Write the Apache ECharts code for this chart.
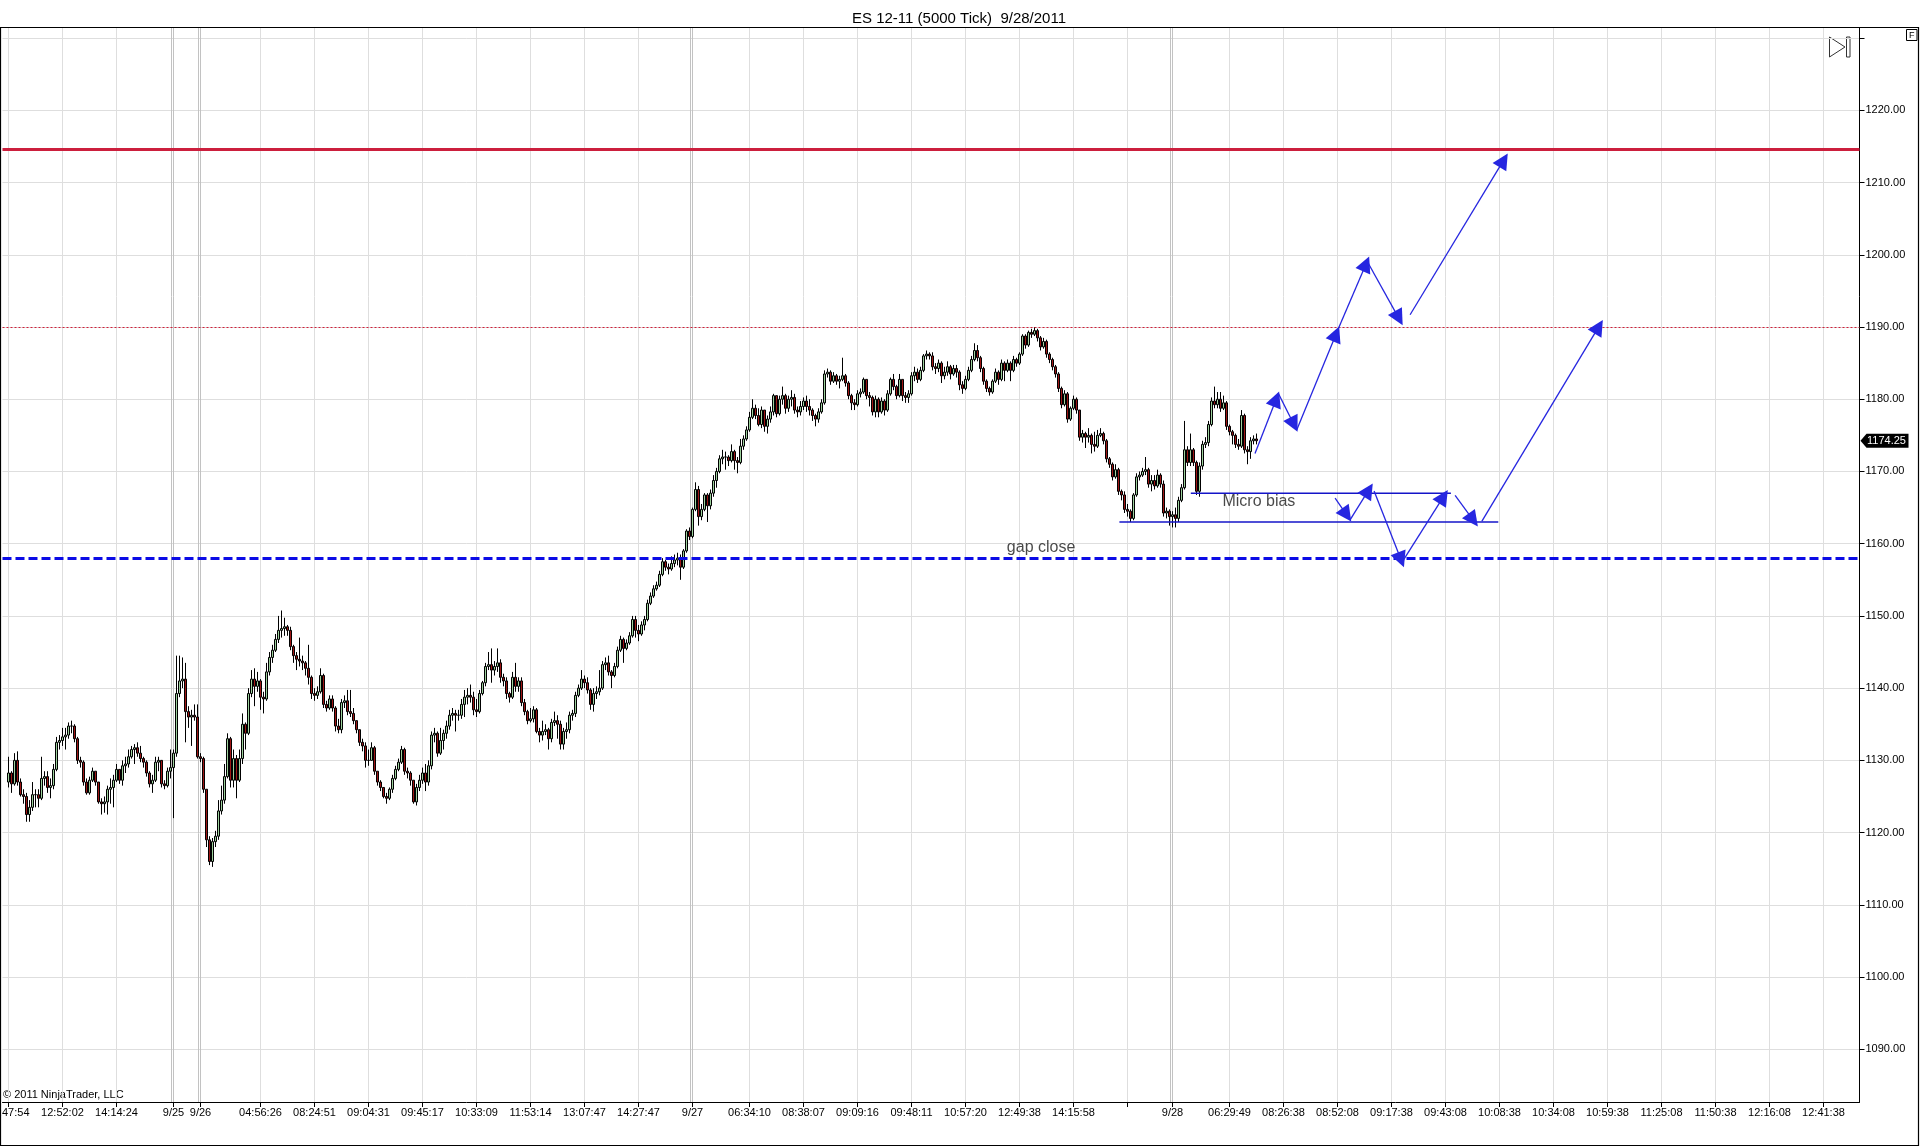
<!DOCTYPE html>
<html>
<head>
<meta charset="utf-8">
<title>ES 12-11 (5000 Tick) 9/28/2011</title>
<script src="https://cdn.jsdelivr.net/npm/echarts@6.0.0/dist/echarts.min.js"></script>
<style>
  html, body { margin: 0; padding: 0; background: #fff; }
  #chart { width: 1920px; height: 1147px; }
</style>
</head>
<body>
<div id="chart"></div>
<script>
// bar slots on the x axis (one slot = one 5000 tick bar, 3px wide)
const SLOTS = 620;
const firstSlot = 2;
const firstOpen = 1127.0;

// closes of each bar, slots 2..418 (open = previous close)
const closes = [
  1128.25, 1126.75, 1130.0, 1127.0, 1125.25, 1125.0, 1122.5, 1123.5, 1125.25, 1125.25,
  1124.75, 1127.5, 1127.75, 1126.25, 1126.5, 1128.75, 1132.5, 1132.75, 1133.25, 1133.5,
  1134.75, 1134.75, 1133.0, 1130.0, 1129.75, 1127.0, 1125.5, 1127.25, 1128.5, 1127.0,
  1124.25, 1124.0, 1124.25, 1126.0, 1126.25, 1127.25, 1128.75, 1127.25, 1129.25, 1129.5,
  1130.5, 1131.5, 1131.75, 1131.0, 1130.25, 1129.75, 1128.25, 1126.75, 1127.25, 1129.75,
  1130.0, 1126.75, 1126.5, 1128.5, 1129.0, 1131.0, 1139.25, 1141.0, 1141.25, 1136.75,
  1136.0, 1136.25, 1136.0, 1130.5, 1130.25, 1126.0, 1119.0, 1116.0, 1118.75, 1119.5,
  1123.0, 1124.5, 1127.75, 1133.0, 1127.25, 1130.25, 1127.25, 1130.25, 1135.0, 1133.75,
  1139.25, 1141.25, 1140.25, 1141.0, 1138.75, 1138.5, 1142.25, 1144.25, 1145.25, 1146.75,
  1148.0, 1148.25, 1148.5, 1148.0, 1145.75, 1144.5, 1144.0, 1143.75, 1143.5, 1142.75,
  1141.5, 1139.25, 1139.0, 1139.5, 1141.75, 1137.75, 1137.25, 1138.5, 1137.25, 1134.75,
  1134.25, 1138.0, 1138.25, 1136.75, 1136.5, 1135.5, 1134.25, 1132.5, 1132.0, 1130.0,
  1130.0, 1131.75, 1128.5, 1127.0, 1126.25, 1125.0, 1124.75, 1126.0, 1127.5, 1128.75,
  1129.75, 1131.5, 1128.5, 1128.25, 1127.25, 1124.25, 1126.25, 1127.25, 1128.25, 1127.0,
  1129.25, 1133.5, 1133.75, 1131.0, 1132.75, 1133.75, 1134.75, 1136.25, 1136.5, 1136.25,
  1136.25, 1137.75, 1138.75, 1139.0, 1138.75, 1137.0, 1136.75, 1139.25, 1140.75, 1143.0,
  1143.25, 1142.5, 1143.0, 1143.5, 1141.5, 1141.0, 1139.25, 1138.75, 1141.5, 1140.25,
  1141.0, 1138.0, 1136.75, 1135.5, 1135.75, 1137.0, 1134.0, 1133.5, 1134.0, 1134.25,
  1133.0, 1135.25, 1135.5, 1135.0, 1132.25, 1134.0, 1134.25, 1136.25, 1136.5, 1139.0,
  1140.0, 1141.25, 1140.75, 1139.75, 1137.75, 1139.25, 1139.5, 1140.0, 1143.25, 1143.5,
  1142.25, 1141.75, 1143.0, 1145.25, 1146.75, 1145.5, 1146.25, 1147.25, 1149.5, 1148.0,
  1147.5, 1148.75, 1149.5, 1151.75, 1152.75, 1153.75, 1154.25, 1155.75, 1157.5, 1156.75,
  1156.5, 1157.25, 1157.75, 1158.0, 1156.75, 1159.0, 1161.75, 1161.0, 1164.75, 1167.5,
  1163.75, 1164.75, 1166.75, 1165.25, 1167.0, 1168.75, 1170.0, 1171.75, 1172.0, 1172.0,
  1171.5, 1172.75, 1171.5, 1171.25, 1173.5, 1174.5, 1175.75, 1177.5, 1178.75, 1177.75,
  1176.5, 1178.5, 1176.25, 1177.25, 1178.25, 1180.5, 1178.0, 1180.0, 1180.5, 1178.75,
  1180.0, 1180.25, 1178.5, 1178.25, 1179.0, 1179.75, 1179.0, 1178.5, 1177.75, 1177.25,
  1178.25, 1179.5, 1183.5, 1183.75, 1182.5, 1183.25, 1182.5, 1182.75, 1183.25, 1182.25,
  1180.5, 1179.5, 1179.25, 1180.75, 1181.0, 1182.75, 1180.5, 1180.25, 1178.25, 1180.0,
  1178.25, 1179.75, 1178.5, 1180.75, 1182.75, 1181.75, 1180.5, 1182.75, 1180.5, 1180.25,
  1180.75, 1183.25, 1183.75, 1182.75, 1184.0, 1186.0, 1186.25, 1186.0, 1184.5, 1184.25,
  1185.0, 1183.25, 1183.75, 1184.5, 1183.5, 1184.25, 1183.75, 1182.0, 1181.5, 1182.75,
  1184.0, 1185.5, 1186.75, 1185.75, 1184.25, 1182.5, 1181.5, 1181.0, 1182.5, 1183.75,
  1182.75, 1185.0, 1184.0, 1185.0, 1184.0, 1185.5, 1185.0, 1186.25, 1188.75, 1187.5,
  1189.25, 1189.0, 1189.5, 1188.5, 1187.25, 1188.0, 1186.25, 1185.5, 1184.5, 1183.5,
  1181.5, 1179.25, 1180.75, 1177.25, 1178.75, 1180.0, 1178.5, 1174.75, 1175.25, 1174.75,
  1175.0, 1173.75, 1173.5, 1175.0, 1175.25, 1174.25, 1171.75, 1171.0, 1169.25, 1170.25,
  1167.25, 1166.75, 1164.75, 1164.5, 1163.5, 1166.75, 1169.25, 1169.5, 1170.0, 1170.25,
  1168.25, 1168.75, 1168.0, 1169.5, 1168.25, 1164.25, 1164.5, 1163.75, 1164.0, 1163.5,
  1166.0, 1167.75, 1173.0, 1171.25, 1173.0, 1171.25, 1167.25, 1170.75, 1173.75, 1174.0,
  1176.5, 1179.75, 1179.25, 1180.0, 1178.75, 1179.5, 1176.25, 1175.5, 1175.0, 1173.75,
  1173.5, 1177.75, 1173.0, 1172.75, 1174.25, 1174.5, 1174.25
];

const highs = [
  1130.5, 1128.5, 1131.0, 1131.25, 1127.5, 1126.0, 1125.5, 1124.5, 1127.0, 1126.0,
  1126.0, 1130.5, 1128.5, 1128.5, 1127.5, 1129.5, 1133.25, 1133.5, 1134.5, 1134.5,
  1135.25, 1135.5, 1135.0, 1133.25, 1130.5, 1130.0, 1127.5, 1127.75, 1129.0, 1128.5,
  1127.0, 1124.75, 1125.0, 1126.5, 1127.5, 1128.0, 1129.5, 1128.75, 1130.0, 1130.5,
  1131.5, 1132.0, 1132.25, 1132.5, 1132.0, 1130.5, 1130.0, 1128.5, 1128.0, 1130.5,
  1130.5, 1130.0, 1127.25, 1129.0, 1131.5, 1131.5, 1144.5, 1144.5, 1144.25, 1143.5,
  1137.5, 1137.0, 1137.75, 1137.75, 1131.0, 1130.5, 1126.0, 1119.5, 1119.25, 1120.25,
  1124.5, 1126.5, 1129.5, 1133.75, 1133.25, 1131.5, 1130.75, 1131.5, 1136.5, 1135.25,
  1140.0, 1142.5, 1142.75, 1142.25, 1141.25, 1139.5, 1143.5, 1145.0, 1146.0, 1147.5,
  1150.0, 1150.75, 1149.75, 1148.75, 1148.5, 1146.0, 1145.0, 1147.0, 1144.5, 1143.75,
  1146.0, 1141.75, 1140.0, 1140.25, 1142.75, 1142.0, 1138.25, 1139.0, 1139.0, 1137.5,
  1135.75, 1138.5, 1139.0, 1139.75, 1139.75, 1137.25, 1135.5, 1134.25, 1133.0, 1132.5,
  1131.5, 1132.5, 1132.0, 1128.5, 1127.25, 1126.25, 1125.5, 1126.25, 1128.0, 1129.25,
  1130.25, 1132.0, 1131.75, 1129.0, 1128.5, 1127.25, 1126.75, 1128.0, 1129.0, 1129.5,
  1130.0, 1134.0, 1134.5, 1134.0, 1134.5, 1134.25, 1135.5, 1137.0, 1137.25, 1137.0,
  1137.0, 1138.5, 1139.75, 1140.0, 1140.5, 1139.5, 1138.5, 1139.75, 1141.0, 1143.5,
  1145.0, 1145.5, 1143.75, 1145.5, 1144.0, 1142.0, 1141.5, 1139.5, 1142.25, 1143.5,
  1141.5, 1141.5, 1138.5, 1137.0, 1137.25, 1137.5, 1137.25, 1134.5, 1135.5, 1135.0,
  1134.5, 1135.75, 1136.75, 1136.25, 1135.5, 1134.5, 1135.25, 1136.75, 1137.0, 1139.5,
  1140.5, 1142.5, 1141.75, 1141.5, 1140.0, 1140.0, 1140.25, 1142.5, 1143.75, 1144.25,
  1144.5, 1142.5, 1143.5, 1145.75, 1147.25, 1147.0, 1146.75, 1147.75, 1150.0, 1150.0,
  1148.75, 1149.25, 1150.0, 1152.25, 1153.25, 1154.25, 1154.75, 1156.25, 1158.0, 1157.75,
  1157.25, 1158.25, 1158.5, 1158.75, 1158.5, 1159.25, 1162.0, 1162.25, 1165.0, 1168.5,
  1168.0, 1165.5, 1167.0, 1167.0, 1167.5, 1169.5, 1170.5, 1172.25, 1173.0, 1172.75,
  1172.25, 1173.75, 1173.0, 1172.0, 1174.5, 1175.0, 1176.25, 1178.25, 1180.0, 1179.25,
  1178.75, 1179.0, 1178.5, 1177.75, 1179.0, 1180.75, 1180.5, 1180.5, 1181.75, 1180.75,
  1180.5, 1181.25, 1180.75, 1179.0, 1179.75, 1180.25, 1180.5, 1180.0, 1178.75, 1178.0,
  1178.75, 1180.0, 1184.0, 1184.25, 1184.0, 1183.75, 1183.5, 1183.25, 1185.75, 1183.5,
  1182.5, 1180.75, 1180.0, 1181.25, 1181.5, 1183.0, 1182.75, 1181.0, 1180.5, 1180.5,
  1180.25, 1180.25, 1180.0, 1181.25, 1183.0, 1183.5, 1182.0, 1183.5, 1182.75, 1181.0,
  1181.25, 1183.75, 1184.5, 1184.25, 1184.5, 1186.25, 1186.75, 1186.5, 1186.5, 1185.0,
  1185.5, 1185.25, 1184.5, 1185.25, 1184.75, 1184.75, 1184.75, 1184.0, 1182.5, 1183.25,
  1184.5, 1186.0, 1187.75, 1187.5, 1186.0, 1184.5, 1182.75, 1181.75, 1182.75, 1184.25,
  1184.0, 1185.5, 1185.25, 1185.5, 1185.25, 1186.0, 1185.75, 1186.5, 1189.0, 1189.0,
  1189.5, 1189.75, 1190.0, 1189.75, 1188.75, 1188.5, 1188.25, 1186.5, 1185.75, 1184.75,
  1183.75, 1181.75, 1181.25, 1181.0, 1179.0, 1180.5, 1180.25, 1178.5, 1175.75, 1175.5,
  1176.0, 1175.25, 1175.5, 1175.75, 1176.0, 1175.5, 1174.5, 1172.0, 1171.25, 1171.0,
  1170.5, 1167.5, 1167.25, 1165.5, 1164.75, 1167.0, 1169.75, 1170.0, 1170.5, 1172.0,
  1170.5, 1169.5, 1169.5, 1170.25, 1169.75, 1168.75, 1165.0, 1164.75, 1164.5, 1165.0,
  1166.5, 1168.25, 1177.0, 1173.5, 1175.25, 1173.25, 1171.5, 1171.25, 1174.25, 1174.75,
  1177.0, 1180.25, 1181.75, 1181.0, 1181.0, 1180.5, 1179.75, 1176.5, 1175.75, 1175.25,
  1174.5, 1178.5, 1178.0, 1173.5, 1174.75, 1175.0, 1175.25
];

const lows = [
  1126.25, 1125.5, 1126.5, 1126.5, 1125.0, 1124.0, 1121.5, 1121.5, 1123.0, 1123.5,
  1123.5, 1124.5, 1126.5, 1125.5, 1124.75, 1126.0, 1128.5, 1131.5, 1132.0, 1131.5,
  1133.0, 1133.75, 1132.5, 1129.5, 1129.0, 1126.5, 1125.25, 1125.25, 1127.0, 1126.5,
  1124.0, 1122.5, 1122.75, 1122.5, 1124.0, 1123.5, 1127.0, 1126.75, 1126.5, 1128.25,
  1129.0, 1130.25, 1129.5, 1130.5, 1129.75, 1129.0, 1127.75, 1126.25, 1125.5, 1127.0,
  1128.5, 1126.25, 1126.0, 1126.25, 1127.5, 1122.0, 1130.5, 1138.75, 1140.0, 1132.5,
  1134.5, 1132.0, 1135.5, 1130.25, 1129.75, 1125.5, 1118.0, 1115.5, 1115.25, 1118.0,
  1119.0, 1122.5, 1124.0, 1127.5, 1126.25, 1126.25, 1124.75, 1127.0, 1129.5, 1131.5,
  1133.5, 1138.75, 1137.5, 1139.5, 1137.0, 1136.5, 1138.25, 1141.75, 1143.5, 1145.0,
  1146.25, 1147.0, 1147.25, 1147.25, 1145.25, 1143.5, 1142.5, 1143.0, 1142.5, 1141.75,
  1140.5, 1138.5, 1138.25, 1138.5, 1139.25, 1137.25, 1136.75, 1137.0, 1136.75, 1134.0,
  1133.75, 1133.75, 1137.25, 1136.25, 1136.0, 1135.0, 1133.75, 1132.0, 1131.25, 1129.0,
  1129.25, 1130.0, 1128.0, 1126.5, 1125.75, 1124.75, 1124.0, 1124.5, 1125.5, 1127.25,
  1128.5, 1129.5, 1128.0, 1127.5, 1126.5, 1124.0, 1123.75, 1125.75, 1126.75, 1125.75,
  1126.5, 1128.75, 1132.5, 1130.5, 1130.75, 1131.5, 1133.0, 1134.25, 1135.5, 1134.0,
  1135.5, 1135.75, 1136.0, 1137.75, 1138.0, 1136.25, 1136.0, 1136.5, 1139.0, 1140.25,
  1142.5, 1140.75, 1141.75, 1142.25, 1140.75, 1140.25, 1138.5, 1138.0, 1138.5, 1139.5,
  1139.5, 1137.5, 1136.25, 1135.0, 1135.25, 1135.25, 1133.75, 1132.5, 1132.75, 1133.5,
  1131.5, 1132.5, 1134.75, 1133.0, 1131.5, 1131.5, 1133.0, 1133.75, 1135.5, 1136.0,
  1138.75, 1139.75, 1140.0, 1139.25, 1137.0, 1136.75, 1138.5, 1139.0, 1139.75, 1142.5,
  1141.75, 1140.0, 1141.5, 1142.75, 1145.0, 1143.5, 1145.25, 1146.0, 1147.0, 1147.0,
  1146.5, 1147.25, 1148.0, 1149.25, 1151.5, 1152.5, 1153.5, 1154.0, 1155.5, 1156.25,
  1155.75, 1156.25, 1156.75, 1157.0, 1155.0, 1156.5, 1158.75, 1160.5, 1160.75, 1164.5,
  1162.5, 1163.25, 1164.5, 1163.0, 1164.75, 1166.5, 1167.75, 1169.75, 1171.0, 1170.25,
  1170.75, 1171.25, 1170.25, 1169.75, 1171.0, 1173.0, 1174.25, 1175.5, 1177.25, 1177.25,
  1176.25, 1176.0, 1175.5, 1175.25, 1176.75, 1177.75, 1177.5, 1177.75, 1179.25, 1178.0,
  1178.25, 1179.0, 1178.0, 1177.5, 1177.75, 1178.5, 1178.25, 1177.75, 1177.0, 1176.25,
  1176.75, 1178.0, 1179.25, 1183.0, 1182.0, 1182.25, 1182.0, 1181.5, 1182.5, 1181.75,
  1180.0, 1178.5, 1178.5, 1179.0, 1180.25, 1180.75, 1180.0, 1179.0, 1177.75, 1177.5,
  1177.5, 1178.0, 1177.75, 1178.25, 1180.5, 1181.25, 1180.0, 1180.25, 1179.75, 1179.5,
  1179.5, 1180.5, 1182.5, 1182.25, 1182.5, 1183.75, 1185.5, 1185.5, 1184.0, 1183.5,
  1183.75, 1182.25, 1182.75, 1183.25, 1182.75, 1183.25, 1183.0, 1181.25, 1180.75, 1181.25,
  1182.5, 1183.75, 1185.25, 1185.25, 1183.75, 1182.0, 1181.0, 1180.5, 1180.75, 1182.25,
  1182.0, 1182.5, 1182.5, 1183.75, 1182.5, 1183.75, 1184.5, 1184.75, 1186.0, 1187.0,
  1187.25, 1188.5, 1188.75, 1188.0, 1186.75, 1187.0, 1185.75, 1185.0, 1184.0, 1183.0,
  1181.0, 1178.75, 1179.0, 1176.75, 1177.0, 1178.5, 1178.0, 1174.25, 1174.0, 1173.25,
  1174.0, 1172.5, 1172.75, 1173.25, 1174.75, 1173.75, 1171.25, 1170.5, 1168.75, 1169.0,
  1166.75, 1166.0, 1164.25, 1163.75, 1163.0, 1163.25, 1166.5, 1168.75, 1169.25, 1169.5,
  1167.75, 1167.25, 1167.5, 1167.75, 1167.75, 1163.75, 1163.5, 1162.5, 1162.25, 1162.25,
  1163.0, 1165.75, 1167.5, 1170.75, 1170.75, 1170.75, 1166.75, 1166.5, 1170.25, 1173.25,
  1173.5, 1176.25, 1178.75, 1178.75, 1178.25, 1178.5, 1175.75, 1175.0, 1173.75, 1173.25,
  1173.0, 1173.25, 1172.5, 1171.0, 1171.75, 1173.75, 1173.75
];

// x axis tick labels (slot index -> text)
const tickSlots = [2, 20, 38, 57, 66, 86, 104, 122, 140, 158, 176, 194, 212, 230, 249, 267, 285, 303,
  321, 339, 357, 375, 390, 409, 427, 445, 463, 481, 499, 517, 535, 553, 571, 589, 607];
const tickLabels = ['11:47:54', '12:52:02', '14:14:24', '9/25', '9/26', '04:56:26', '08:24:51', '09:04:31',
  '09:45:17', '10:33:09', '11:53:14', '13:07:47', '14:27:47', '9/27', '06:34:10', '08:38:07', '09:09:16',
  '09:48:11', '10:57:20', '12:49:38', '14:15:58', '', '9/28', '06:29:49', '08:26:38', '08:52:08',
  '09:17:38', '09:43:08', '10:08:38', '10:34:08', '10:59:38', '11:25:08', '11:50:38', '12:16:08', '12:41:38'];
const sessionStarts = [57, 66, 230, 390];

// price axis
const priceTicks = [1090, 1100, 1110, 1120, 1130, 1140, 1150, 1160, 1170, 1180, 1190, 1200, 1210, 1220, 1230];
const priceLabels = [1090, 1100, 1110, 1120, 1130, 1140, 1150, 1160, 1170, 1180, 1190, 1200, 1210, 1220];

// drawn levels
const resistanceLevel = 1214.6;
const pivotLevel = 1190;
const gapLevel = 1158;

// micro bias box lines [fromSlot, toSlot, price]
const microTop = [396.1, 482.8, 1167];
const microBottom = [372.3, 498.6, 1163];

// hand drawn arrows [slot, price]
const arrowFrom = [
  [417.5, 1172.5], [425.3, 1180.8], [431.4, 1175.75], [445.3, 1189.8], [455.3, 1198.8], [469.2, 1191.7],
  [444.2, 1166.3], [449.2, 1163.3], [457.2, 1167.3], [466.9, 1157.7], [484.2, 1166.7], [493.1, 1163.1]
];
const arrowTo = [
  [425.3, 1180.8], [431.4, 1175.75], [445.3, 1189.8], [455.3, 1199.5], [466.4, 1190.5], [501.4, 1213.8],
  [449.2, 1163.3], [456.4, 1168.1], [466.9, 1157.0], [481.4, 1167.2], [491.4, 1162.6], [533.1, 1190.75]
];

// text notes
const notes = [
  { name: 'Micro bias', value: [418.8, 1165.8] },
  { name: 'gap close', value: [346.2, 1159.4] }
];

const FONT = 'Liberation Sans, Arial, sans-serif';

const slotNames = [];
for (let i = 0; i < SLOTS; i++) slotNames.push(String(i));
const labelBySlot = {};
tickSlots.forEach((s, i) => { labelBySlot[s] = tickLabels[i]; });
const isTick = (idx) => labelBySlot[idx] !== undefined;

const candleData = closes.map((c, k) => {
  const open = k === 0 ? firstOpen : closes[k - 1];
  const lo = Math.min(lows[k], open, c);
  const hi = Math.max(highs[k], open, c);
  return [firstSlot + k, open, c, lo, hi];
});
const lastClose = closes[closes.length - 1];

const sessionLines = [];
sessionStarts.forEach(s => {
  sessionLines.push({ xAxis: s - 0.75 });
  sessionLines.push({ xAxis: s });
});

const chart = echarts.init(document.getElementById('chart'));

const option = {
  animation: false,
  backgroundColor: '#fff',
  textStyle: { fontFamily: FONT },
  title: {
    text: 'ES 12-11 (5000 Tick)  9/28/2011',
    left: 954,
    top: 6,
    textAlign: 'center',
    textStyle: { fontSize: 15, fontWeight: 'normal', color: '#000', fontFamily: FONT }
  },
  grid: {
    left: 2.5,
    top: 28,
    width: 1857,
    height: 1074,
    show: false,
    containLabel: false,
    outerBoundsMode: 'none'
  },
  xAxis: [
    {
      type: 'category',
      data: slotNames,
      boundaryGap: false,
      axisLine: { show: true, onZero: false, lineStyle: { color: '#000', width: 1 } },
      axisTick: { show: true, interval: isTick, length: 5, lineStyle: { color: '#000' } },
      axisLabel: {
        interval: isTick,
        formatter: (val, idx) => labelBySlot[idx] || '',
        fontSize: 11,
        color: '#000',
        margin: 5,
        fontFamily: FONT
      },
      splitLine: { show: true, interval: isTick, lineStyle: { color: '#dedede', width: 1 } }
    },
    {
      type: 'value',
      min: 0,
      max: SLOTS - 1,
      show: false,
      axisLine: { onZero: false }
    }
  ],
  yAxis: {
    type: 'value',
    position: 'right',
    min: 1082.7,
    max: 1231.4,
    axisLine: { show: true, onZero: false, lineStyle: { color: '#000', width: 1 } },
    axisTick: { show: true, customValues: priceTicks, length: 5, lineStyle: { color: '#000' } },
    axisLabel: {
      customValues: priceLabels,
      formatter: v => Number(v).toFixed(2),
      fontSize: 11,
      color: '#000',
      margin: 6,
      fontFamily: FONT
    },
    splitLine: { show: true, lineStyle: { color: '#dedede', width: 1 } }
  },
  series: [
    {
      type: 'candlestick',
      name: 'ES 12-11',
      xAxisIndex: 0,
      yAxisIndex: 0,
      large: false,
      barWidth: 3,
      encode: { x: 0, y: [1, 2, 3, 4] },
      data: candleData,
      itemStyle: {
        color: '#9dd19d',
        color0: '#9e1515',
        borderColor: '#000',
        borderColor0: '#000',
        borderWidth: 1
      },
      markLine: {
        silent: true,
        animation: false,
        symbol: ['none', 'none'],
        label: { show: false },
        data: [
          { yAxis: resistanceLevel, lineStyle: { color: '#cc1f3d', width: 3, type: 'solid' } },
          { yAxis: pivotLevel, lineStyle: { color: '#d0203a', width: 1, type: [2, 2] } },
          { yAxis: gapLevel, lineStyle: { color: '#0b0be6', width: 3, type: [9, 4] } }
        ]
      }
    },
    {
      type: 'line',
      name: 'micro top',
      xAxisIndex: 1,
      yAxisIndex: 0,
      symbol: 'none',
      silent: true,
      data: [[microTop[0], microTop[2]], [microTop[1], microTop[2]]],
      lineStyle: { color: '#1414c8', width: 1.5 },
      markLine: {
        silent: true,
        animation: false,
        z: 1,
        symbol: ['none', 'none'],
        label: { show: false },
        lineStyle: { color: '#c2c2c2', width: 1, type: 'solid' },
        data: sessionLines
      },
      markPoint: {
        silent: true,
        animation: false,
        symbol: 'path://M0,7 L6,0 L48,0 L48,14 L6,14 Z',
        symbolKeepAspect: false,
        symbolSize: [48, 14],
        symbolOffset: [25, 0],
        itemStyle: { color: '#000' },
        label: {
          show: true,
          position: 'inside',
          offset: [2, 0],
          formatter: p => Number(p.data.coord[1]).toFixed(2),
          color: '#fff',
          fontSize: 11,
          fontFamily: FONT
        },
        data: [{ coord: [SLOTS - 1, lastClose] }]
      }
    },
    {
      type: 'line',
      name: 'micro bottom',
      xAxisIndex: 1,
      yAxisIndex: 0,
      symbol: 'none',
      silent: true,
      data: [[microBottom[0], microBottom[2]], [microBottom[1], microBottom[2]]],
      lineStyle: { color: '#1414c8', width: 1.5 },
      markLine: {
        silent: true,
        animation: false,
        symbol: ['none', 'triangle'],
        symbolSize: 16,
        symbolOffset: [0, [0, 6]],
        label: { show: false },
        lineStyle: { color: '#2626e0', width: 1.3, type: 'solid' },
        itemStyle: { color: '#0000ff' },
        data: arrowFrom.map((p, i) => [{ coord: p }, { coord: arrowTo[i] }])
      }
    },
    {
      type: 'scatter',
      name: 'notes',
      xAxisIndex: 1,
      yAxisIndex: 0,
      symbolSize: 0,
      silent: true,
      data: notes,
      label: {
        show: true,
        position: 'inside',
        formatter: '{b}',
        fontSize: 16,
        color: '#1a1a1a',
        fontFamily: FONT
      }
    }
  ],
  graphic: [
    {
      type: 'rect',
      shape: { x: 0.5, y: 27.5, width: 1918, height: 1118 },
      style: { fill: 'none', stroke: '#000', lineWidth: 1.2 },
      silent: true
    },
    {
      type: 'text',
      left: 3,
      top: 1089,
      style: { text: '\u00a9 2011 NinjaTrader, LLC', font: '11px ' + FONT, fill: '#000' },
      silent: true
    },
    {
      type: 'polygon',
      shape: { points: [[1829.5, 37], [1845, 47], [1829.5, 57]] },
      style: { fill: '#fff', stroke: '#333', lineWidth: 1 },
      silent: true
    },
    {
      type: 'rect',
      shape: { x: 1846.5, y: 37, width: 3.5, height: 20 },
      style: { fill: '#fff', stroke: '#333', lineWidth: 1 },
      silent: true
    },
    {
      type: 'rect',
      shape: { x: 1906.5, y: 29.5, width: 10.5, height: 11 },
      style: { fill: '#fff', stroke: '#000', lineWidth: 1 },
      silent: true
    },
    {
      type: 'text',
      x: 1911.8,
      y: 35.2,
      style: { text: 'F', font: '9px ' + FONT, fill: '#000', align: 'center', verticalAlign: 'middle' },
      silent: true
    }
  ]
};

chart.setOption(option);
</script>
</body>
</html>
